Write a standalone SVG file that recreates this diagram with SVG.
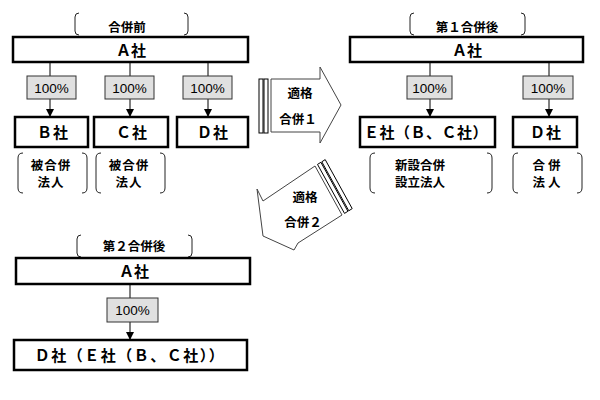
<svg xmlns="http://www.w3.org/2000/svg" width="600" height="400" viewBox="0 0 600 400">
<defs>
<marker id="ah" viewBox="0 0 8 8" refX="8" refY="4" markerWidth="8" markerHeight="8" markerUnits="userSpaceOnUse" orient="auto">
<path d="M0,0 L8,4 L0,8 Z" fill="#000"/>
</marker>
<style>
text{font-family:"Noto Sans CJK JP","Liberation Sans",sans-serif;fill:#000;text-anchor:middle}
.box{fill:#fff;stroke:#000;stroke-width:2.5}
.pct{fill:#e0e0e0;stroke:#333;stroke-width:1}
.pt{font-family:"Liberation Sans","Noto Sans CJK JP",sans-serif;font-size:13.5px}
.lb{font-size:15px;font-weight:bold}
.bk{fill:none;stroke:#222;stroke-width:1}
.bt{font-size:12.5px;font-weight:bold}
.ln{stroke:#000;stroke-width:1;fill:none}
.arr{fill:#fff;stroke:#444;stroke-width:1}
.bar{fill:#fff;stroke:#000;stroke-width:1}
</style>
</defs>
<rect width="600" height="400" fill="#fff"/>

<g id="connectors">
<line class="ln" x1="50" y1="62" x2="50" y2="117" marker-end="url(#ah)"/>
<line class="ln" x1="130" y1="62" x2="130" y2="117" marker-end="url(#ah)"/>
<line class="ln" x1="208" y1="62" x2="208" y2="117" marker-end="url(#ah)"/>
<line class="ln" x1="430" y1="62" x2="430" y2="117" marker-end="url(#ah)"/>
<line class="ln" x1="549" y1="62" x2="549" y2="117" marker-end="url(#ah)"/>
<line class="ln" x1="130" y1="284" x2="130" y2="340" marker-end="url(#ah)"/>
</g>

<g id="label-before">
<path class="bk" d="M79,13 Q75,13 75,17 V31 Q75,35 79,35 M184,13 Q188,13 188,17 V31 Q188,35 184,35"/>
<text class="bt" x="127" y="32">合併前</text>
</g>
<g id="A1">
<rect class="box" x="13" y="37" width="235" height="25"/>
<text class="lb" x="131" y="55.5">Ａ社</text>
</g>
<g id="p1"><rect class="pct" x="27" y="76" width="49" height="23"/><text class="pt" x="51.5" y="92.5">100%</text></g>
<g id="p2"><rect class="pct" x="105" y="76" width="49" height="23"/><text class="pt" x="129.5" y="92.5">100%</text></g>
<g id="p3"><rect class="pct" x="183" y="76" width="49" height="23"/><text class="pt" x="207.5" y="92.5">100%</text></g>
<g id="B"><rect class="box" x="15" y="117" width="73" height="30"/><text class="lb" x="53" y="137.5" letter-spacing="1">Ｂ社</text></g>
<g id="C"><rect class="box" x="94" y="117" width="74" height="30"/><text class="lb" x="132" y="137.5" letter-spacing="1">Ｃ社</text></g>
<g id="D1"><rect class="box" x="177" y="117" width="71" height="30"/><text class="lb" x="213" y="137.5" letter-spacing="1">Ｄ社</text></g>
<g id="note-B">
<path class="bk" d="M23,153 Q18,153 18,158 V188 Q18,193 23,193 M82,153 Q87,153 87,158 V188 Q87,193 82,193"/>
<text class="bt" x="51" y="169.5" letter-spacing="1">被合併</text>
<text class="bt" x="51" y="187" letter-spacing="1">法人</text>
</g>
<g id="note-C">
<path class="bk" d="M101,153 Q96,153 96,158 V188 Q96,193 101,193 M160,153 Q165,153 165,158 V188 Q165,193 160,193"/>
<text class="bt" x="129" y="169.5" letter-spacing="1">被合併</text>
<text class="bt" x="129" y="187" letter-spacing="1">法人</text>
</g>

<g id="merge1">
<rect class="bar" x="259" y="79" width="4" height="54"/>
<rect class="bar" x="264" y="79" width="4" height="54"/>
<polygon class="arr" points="271,79 320,79 320,67 341,105 320,143 320,132 271,132"/>
<text class="bt" x="300" y="98">適格</text>
<text class="bt" x="298" y="124">合併１</text>
</g>

<g id="label-after1">
<path class="bk" d="M414,13 Q410,13 410,17 V31 Q410,35 414,35 M521,13 Q525,13 525,17 V31 Q525,35 521,35"/>
<text class="bt" x="467" y="32">第１合併後</text>
</g>
<g id="A2">
<rect class="box" x="350" y="37" width="233" height="25"/>
<text class="lb" x="467" y="55.5">Ａ社</text>
</g>
<g id="p4"><rect class="pct" x="407" y="76" width="45" height="23"/><text class="pt" x="429.5" y="92.5">100%</text></g>
<g id="p5"><rect class="pct" x="523" y="76" width="50" height="23"/><text class="pt" x="548" y="92.5">100%</text></g>
<g id="E"><rect class="box" x="360" y="117" width="135" height="30"/><text class="lb" x="426" y="137.5" letter-spacing="0.5">Ｅ社（Ｂ、Ｃ社）</text></g>
<g id="D2"><rect class="box" x="513" y="117" width="64" height="30"/><text class="lb" x="546" y="137.5" letter-spacing="1">Ｄ社</text></g>
<g id="note-E">
<path class="bk" d="M375,153 Q370,153 370,158 V188 Q370,193 375,193 M487,153 Q492,153 492,158 V188 Q492,193 487,193"/>
<text class="bt" x="420" y="169.5">新設合併</text>
<text class="bt" x="420" y="187">設立法人</text>
</g>
<g id="note-D">
<path class="bk" d="M518,153 Q513,153 513,158 V188 Q513,193 518,193 M577,153 Q582,153 582,158 V188 Q582,193 577,193"/>
<text class="bt" x="548" y="169.5" letter-spacing="3">合併</text>
<text class="bt" x="548" y="187" letter-spacing="3">法人</text>
</g>

<g id="merge2">
<polygon class="bar" points="317.5,164.4 344.5,213.4 347.9,211.3 320.9,162.3"/>
<polygon class="bar" points="321.8,161.8 348.8,210.8 352.2,208.6 325.2,159.6"/>
<polygon class="arr" points="315,166 263,201 257,189 263,236 294,250 298,243 342,215"/>
<text class="bt" x="305" y="202">適格</text>
<text class="bt" x="303" y="227">合併２</text>
</g>

<g id="label-after2">
<path class="bk" d="M81,235 Q77,235 77,239 V253 Q77,257 81,257 M188,235 Q192,235 192,239 V253 Q192,257 188,257"/>
<text class="bt" x="134" y="250.5">第２合併後</text>
</g>
<g id="A3">
<rect class="box" x="16" y="258" width="234" height="26"/>
<text class="lb" x="134" y="276.5">Ａ社</text>
</g>
<g id="p6"><rect class="pct" x="107" y="298" width="51" height="24"/><text class="pt" x="132.5" y="315">100%</text></g>
<g id="D3"><rect class="box" x="14" y="340" width="233" height="30"/><text class="lb" x="130" y="360.5" letter-spacing="1.5">Ｄ社（Ｅ社（Ｂ、Ｃ社））</text></g>
</svg>
